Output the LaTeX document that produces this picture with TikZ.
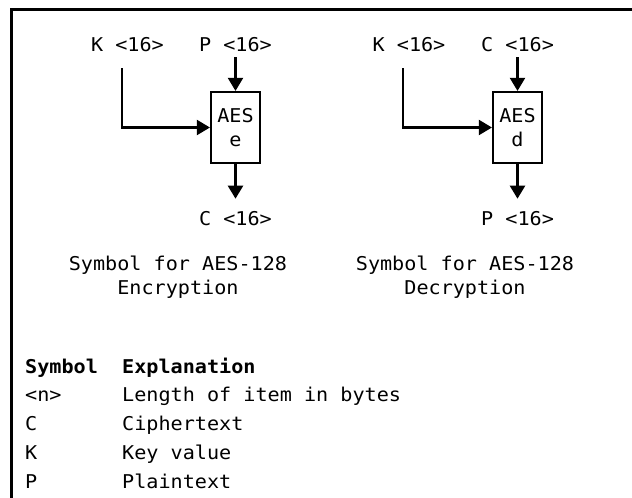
\documentclass[tikz,border=0pt]{standalone}
\usepackage{fontspec}
\usetikzlibrary{arrows.meta}
\newfontfamily\monofam[FakeStretch=1.06]{DejaVu Sans Mono}
\newcommand{\mytxt}{\monofam\fontsize{19}{24}\selectfont}
\tikzset{
  lbl/.style={font=\mytxt, inner sep=0pt, anchor=base},
  leg/.style={font=\mytxt, inner sep=0pt, anchor=base west},
  legh/.style={font=\mytxt\bfseries, inner sep=0pt, anchor=base west},
  aesbox/.style={draw, line width=2.2pt, minimum width=49pt, minimum height=71pt,
                 inner sep=0pt, align=center, font=\mytxt},
  arr/.style={line width=2.2pt, -{Triangle[length=13pt,width=15pt]}},
  frame/.style={line width=3pt}
}
\begin{document}
\begin{tikzpicture}[x=1pt,y=-1pt]
\useasboundingbox (0,0) rectangle (632,498);
\draw[frame] (632,9.5) -- (11,9.5) -- (11,498);

% Encryption
\node[aesbox] (enc) at (235.5,127.5) {AES\\e};
\node[lbl] (kE) at (127.5,51) {K <16>};
\node[lbl] (pE) at (235.5,51) {P <16>};
\node[lbl] (cE) at (235.5,225) {C <16>};
\node[lbl] (capE1) at (178,270) {Symbol for AES-128};
\node[lbl] (capE2) at (178,294) {Encryption};
\draw[arr, shorten <=6pt] (pE.south) -- (enc.north);
\draw[arr] ([xshift=-5.8pt,yshift=-17pt]kE.base) |- (enc.west);
\draw[arr, shorten >=12pt] (enc.south) -- (cE.north);

% Decryption
\node[aesbox] (dec) at (517.5,127.5) {AES\\d};
\node[lbl] (kD) at (409,51) {K <16>};
\node[lbl] (cD) at (517.5,51) {C <16>};
\node[lbl] (pD) at (517.5,225) {P <16>};
\node[lbl] (capD1) at (465,270) {Symbol for AES-128};
\node[lbl] (capD2) at (465,294) {Decryption};
\draw[arr, shorten <=6pt] (cD.south) -- (dec.north);
\draw[arr] ([xshift=-6pt,yshift=-17pt]kD.base) |- (dec.west);
\draw[arr, shorten >=12pt] (dec.south) -- (pD.north);

% Legend
\node[legh] (hs) at (25,373) {Symbol};
\node[legh] (he) at (122,373) {Explanation};
\node[leg] (s1) at (25,401) {<n>};
\node[leg] (e1) at (122,401) {Length of item in bytes};
\node[leg] (s2) at (25,430) {C};
\node[leg] (e2) at (122,430) {Ciphertext};
\node[leg] (s3) at (25,459) {K};
\node[leg] (e3) at (122,459) {Key value};
\node[leg] (s4) at (25,488) {P};
\node[leg] (e4) at (122,488) {Plaintext};
\end{tikzpicture}
\end{document}
